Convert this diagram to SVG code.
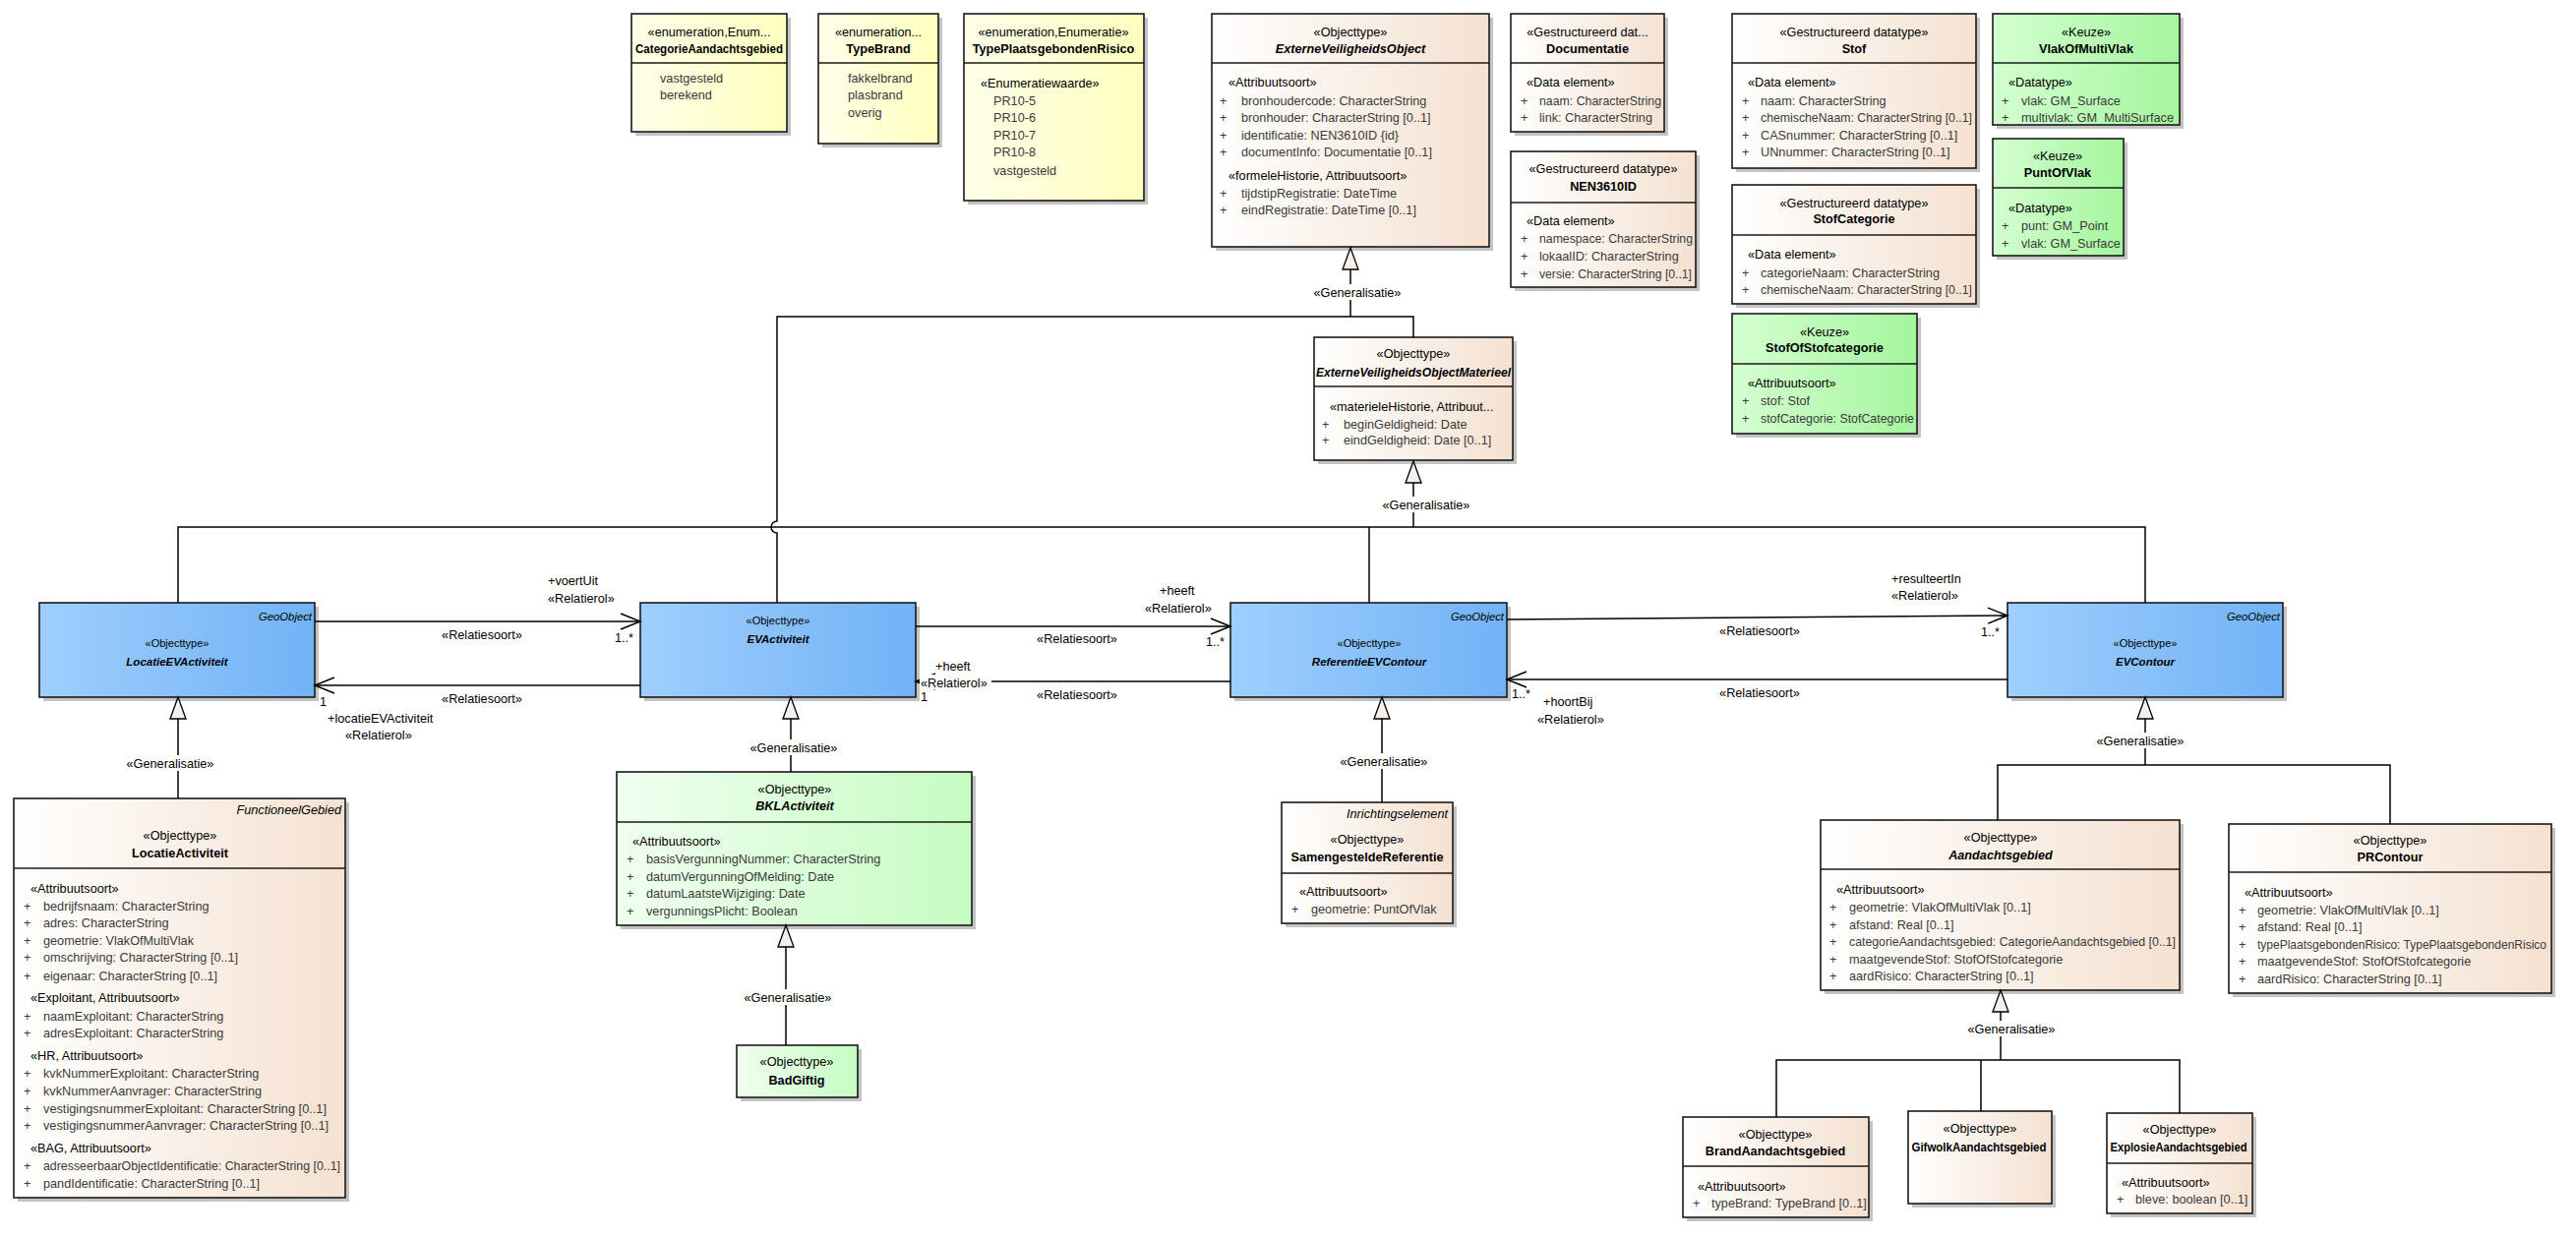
<svg xmlns="http://www.w3.org/2000/svg" width="2619" height="1258" viewBox="0 0 2619 1258">
<defs>
<linearGradient id="gPeach" x1="0" y1="0" x2="1" y2="0"><stop offset="0" stop-color="#FFFFFF"/><stop offset="1" stop-color="#F5E1D1"/></linearGradient>
<linearGradient id="gYellow" x1="0" y1="0" x2="1" y2="0"><stop offset="0" stop-color="#FFFFEA"/><stop offset="1" stop-color="#FFFFBE"/></linearGradient>
<linearGradient id="gGreen" x1="0" y1="0" x2="1" y2="0"><stop offset="0" stop-color="#D4FFD0"/><stop offset="1" stop-color="#A4F59E"/></linearGradient>
<linearGradient id="gGreenL" x1="0" y1="0" x2="1" y2="0"><stop offset="0" stop-color="#F0FFF0"/><stop offset="1" stop-color="#C6FCC2"/></linearGradient>
<linearGradient id="gBlue" x1="0" y1="0" x2="1" y2="0"><stop offset="0" stop-color="#9FCFFE"/><stop offset="1" stop-color="#72B2F6"/></linearGradient>
<marker id="gen" markerWidth="26" markerHeight="20" refX="23" refY="9" orient="auto" markerUnits="userSpaceOnUse"><path d="M1,1 L23,9 L1,17 Z" fill="#F6F0EC" stroke="#000" stroke-width="1.3"/></marker>
<marker id="arr" markerWidth="24" markerHeight="20" refX="21" refY="9" orient="auto" markerUnits="userSpaceOnUse"><path d="M1,1 L21,9 L1,17" fill="none" stroke="#000" stroke-width="1.5"/></marker>
<style>
text{font-family:"Liberation Sans",Arial,sans-serif;font-size:12.7px;fill:#000}
.sh{fill:#c4c4c4}
.bx{stroke:#1a1a1a;stroke-width:1.6}
.dv{stroke:#1a1a1a;stroke-width:1.6}
.pe{fill:url(#gPeach)}
.ye{fill:url(#gYellow)}
.gr{fill:url(#gGreen)}
.gl{fill:url(#gGreenL)}
.bl{fill:url(#gBlue)}
.c{text-anchor:middle}
.b{font-weight:bold}
.bi{font-weight:bold;font-style:italic}
.it{font-style:italic}
.r{text-anchor:end}
.at{fill:#3a3a3a}
.bs{font-size:11px}
.bn{font-size:11.5px;font-weight:bold;font-style:italic}
.geo{font-size:11.3px;font-style:italic;text-anchor:end}
.ln{fill:none;stroke:#000;stroke-width:1.5}
.lb{fill:#fff}
</style>
</defs>
<rect width="2619" height="1258" fill="#fff"/>

<!-- Enumerations -->
<g id="CategorieAandachtsgebied">
<rect class="sh" x="646" y="18" width="158" height="120"/>
<rect class="bx ye" x="642" y="14" width="158" height="120"/>
<line class="dv" x1="642" y1="64" x2="800" y2="64"/>
<text class="c" x="721" y="36.5">«enumeration,Enum...</text>
<text class="c b" x="721" y="53.5" textLength="150" lengthAdjust="spacingAndGlyphs">CategorieAandachtsgebied</text>
<text class="at" x="671" y="83.5">vastgesteld</text>
<text class="at" x="671" y="100.5">berekend</text>
</g>
<g id="TypeBrand">
<rect class="sh" x="836" y="18" width="122" height="132"/>
<rect class="bx ye" x="832" y="14" width="122" height="132"/>
<line class="dv" x1="832" y1="64" x2="954" y2="64"/>
<text class="c" x="893" y="36.5">«enumeration...</text>
<text class="c b" x="893" y="53.5">TypeBrand</text>
<text class="at" x="862" y="83.5">fakkelbrand</text>
<text class="at" x="862" y="100.5">plasbrand</text>
<text class="at" x="862" y="118.5">overig</text>
</g>
<g id="TypePlaatsgebondenRisico">
<rect class="sh" x="984" y="18" width="183" height="190"/>
<rect class="bx ye" x="980" y="14" width="183" height="190"/>
<line class="dv" x1="980" y1="64" x2="1163" y2="64"/>
<text class="c" x="1071" y="36.5">«enumeration,Enumeratie»</text>
<text class="c b" x="1071" y="53.5">TypePlaatsgebondenRisico</text>
<text x="997" y="88.5">«Enumeratiewaarde»</text>
<text class="at" x="1010" y="106.5">PR10-5</text>
<text class="at" x="1010" y="123.5">PR10-6</text>
<text class="at" x="1010" y="141.5">PR10-7</text>
<text class="at" x="1010" y="158.5">PR10-8</text>
<text class="at" x="1010" y="177.5">vastgesteld</text>
</g>

<!-- ExterneVeiligheidsObject -->
<g id="ExterneVeiligheidsObject">
<rect class="sh" x="1236" y="18" width="282" height="237"/>
<rect class="bx pe" x="1232" y="14" width="282" height="237"/>
<line class="dv" x1="1232" y1="64" x2="1514" y2="64"/>
<text class="c" x="1373" y="36.5">«Objecttype»</text>
<text class="c bi" x="1373" y="53.5">ExterneVeiligheidsObject</text>
<text x="1249" y="87.5">«Attribuutsoort»</text>
<text class="at" x="1240" y="106.5">+</text><text class="at" x="1262" y="106.5">bronhoudercode: CharacterString</text>
<text class="at" x="1240" y="123.5">+</text><text class="at" x="1262" y="123.5">bronhouder: CharacterString [0..1]</text>
<text class="at" x="1240" y="141.5">+</text><text class="at" x="1262" y="141.5">identificatie: NEN3610ID {id}</text>
<text class="at" x="1240" y="158.5">+</text><text class="at" x="1262" y="158.5">documentInfo: Documentatie [0..1]</text>
<text x="1249" y="182.5">«formeleHistorie, Attribuutsoort»</text>
<text class="at" x="1240" y="200.5">+</text><text class="at" x="1262" y="200.5">tijdstipRegistratie: DateTime</text>
<text class="at" x="1240" y="217.5">+</text><text class="at" x="1262" y="217.5">eindRegistratie: DateTime [0..1]</text>
</g>
<g id="Documentatie">
<rect class="sh" x="1540" y="18" width="156" height="120"/>
<rect class="bx pe" x="1536" y="14" width="156" height="120"/>
<line class="dv" x1="1536" y1="64" x2="1692" y2="64"/>
<text class="c" x="1614" y="36.5">«Gestructureerd dat...</text>
<text class="c b" x="1614" y="53.5">Documentatie</text>
<text x="1552" y="87.5">«Data element»</text>
<text class="at" x="1546" y="106.5">+</text><text class="at" x="1565" y="106.5" textLength="124" lengthAdjust="spacingAndGlyphs">naam: CharacterString</text>
<text class="at" x="1546" y="123.5">+</text><text class="at" x="1565" y="123.5">link: CharacterString</text>
</g>
<g id="NEN3610ID">
<rect class="sh" x="1540" y="158" width="188" height="138"/>
<rect class="bx pe" x="1536" y="154" width="188" height="138"/>
<line class="dv" x1="1536" y1="206" x2="1724" y2="206"/>
<text class="c" x="1630" y="175.5">«Gestructureerd datatype»</text>
<text class="c b" x="1630" y="193.5">NEN3610ID</text>
<text x="1552" y="228.5">«Data element»</text>
<text class="at" x="1546" y="246.5">+</text><text class="at" x="1565" y="246.5" textLength="156" lengthAdjust="spacingAndGlyphs">namespace: CharacterString</text>
<text class="at" x="1546" y="264.5">+</text><text class="at" x="1565" y="264.5">lokaalID: CharacterString</text>
<text class="at" x="1546" y="282.5">+</text><text class="at" x="1565" y="282.5" textLength="155" lengthAdjust="spacingAndGlyphs">versie: CharacterString [0..1]</text>
</g>
<g id="Stof">
<rect class="sh" x="1765" y="18" width="248" height="157"/>
<rect class="bx pe" x="1761" y="14" width="248" height="157"/>
<line class="dv" x1="1761" y1="64" x2="2009" y2="64"/>
<text class="c" x="1885" y="36.5">«Gestructureerd datatype»</text>
<text class="c b" x="1885" y="53.5">Stof</text>
<text x="1777" y="87.5">«Data element»</text>
<text class="at" x="1771" y="106.5">+</text><text class="at" x="1790" y="106.5">naam: CharacterString</text>
<text class="at" x="1771" y="123.5">+</text><text class="at" x="1790" y="123.5" textLength="215" lengthAdjust="spacingAndGlyphs">chemischeNaam: CharacterString [0..1]</text>
<text class="at" x="1771" y="141.5">+</text><text class="at" x="1790" y="141.5">CASnummer: CharacterString [0..1]</text>
<text class="at" x="1771" y="158.5">+</text><text class="at" x="1790" y="158.5">UNnummer: CharacterString [0..1]</text>
</g>
<g id="StofCategorie">
<rect class="sh" x="1765" y="192" width="248" height="121"/>
<rect class="bx pe" x="1761" y="188" width="248" height="121"/>
<line class="dv" x1="1761" y1="239" x2="2009" y2="239"/>
<text class="c" x="1885" y="210.5">«Gestructureerd datatype»</text>
<text class="c b" x="1885" y="226.5">StofCategorie</text>
<text x="1777" y="262.5">«Data element»</text>
<text class="at" x="1771" y="281.5">+</text><text class="at" x="1790" y="281.5">categorieNaam: CharacterString</text>
<text class="at" x="1771" y="298.5">+</text><text class="at" x="1790" y="298.5" textLength="215" lengthAdjust="spacingAndGlyphs">chemischeNaam: CharacterString [0..1]</text>
</g>
<g id="StofOfStofcategorie">
<rect class="sh" x="1765" y="323" width="188" height="122"/>
<rect class="bx gr" x="1761" y="319" width="188" height="122"/>
<line class="dv" x1="1761" y1="370" x2="1949" y2="370"/>
<text class="c" x="1855" y="341.5">«Keuze»</text>
<text class="c b" x="1855" y="357.5">StofOfStofcategorie</text>
<text x="1777" y="393.5">«Attribuutsoort»</text>
<text class="at" x="1771" y="411.5">+</text><text class="at" x="1790" y="411.5">stof: Stof</text>
<text class="at" x="1771" y="429.5">+</text><text class="at" x="1790" y="429.5" textLength="156" lengthAdjust="spacingAndGlyphs">stofCategorie: StofCategorie</text>
</g>
<g id="VlakOfMultiVlak">
<rect class="sh" x="2030" y="18" width="190" height="113"/>
<rect class="bx gr" x="2026" y="14" width="190" height="113"/>
<line class="dv" x1="2026" y1="64" x2="2216" y2="64"/>
<text class="c" x="2121" y="36.5">«Keuze»</text>
<text class="c b" x="2121" y="53.5">VlakOfMultiVlak</text>
<text x="2042" y="87.5">«Datatype»</text>
<text class="at" x="2035" y="106.5">+</text><text class="at" x="2055" y="106.5">vlak: GM_Surface</text>
<text class="at" x="2035" y="123.5">+</text><text class="at" x="2055" y="123.5" textLength="155" lengthAdjust="spacingAndGlyphs">multivlak: GM_MultiSurface</text>
</g>
<g id="PuntOfVlak">
<rect class="sh" x="2030" y="145" width="133" height="119"/>
<rect class="bx gr" x="2026" y="141" width="133" height="119"/>
<line class="dv" x1="2026" y1="191" x2="2159" y2="191"/>
<text class="c" x="2092" y="162.5">«Keuze»</text>
<text class="c b" x="2092" y="179.5">PuntOfVlak</text>
<text x="2042" y="215.5">«Datatype»</text>
<text class="at" x="2035" y="233.5">+</text><text class="at" x="2055" y="233.5">punt: GM_Point</text>
<text class="at" x="2035" y="251.5">+</text><text class="at" x="2055" y="251.5">vlak: GM_Surface</text>
</g>
<g id="ExterneVeiligheidsObjectMaterieel">
<rect class="sh" x="1340" y="347" width="202" height="125"/>
<rect class="bx pe" x="1336" y="343" width="202" height="125"/>
<line class="dv" x1="1336" y1="393" x2="1538" y2="393"/>
<text class="c" x="1437" y="363.5">«Objecttype»</text>
<text class="c bi" x="1437" y="382.5" textLength="198" lengthAdjust="spacingAndGlyphs">ExterneVeiligheidsObjectMaterieel</text>
<text x="1352" y="417.5">«materieleHistorie, Attribuut...</text>
<text class="at" x="1344" y="435.5">+</text><text class="at" x="1366" y="435.5">beginGeldigheid: Date</text>
<text class="at" x="1344" y="451.5">+</text><text class="at" x="1366" y="451.5">eindGeldigheid: Date [0..1]</text>
</g>

<!-- Blue row -->
<g id="LocatieEVActiviteit">
<rect class="sh" x="44" y="617" width="280" height="96"/>
<rect class="bx bl" x="40" y="613" width="280" height="96"/>
<text class="geo" x="317" y="631">GeoObject</text>
<text class="c bs" x="180" y="658">«Objecttype»</text>
<text class="c bn" x="180" y="677">LocatieEVActiviteit</text>
</g>
<g id="EVActiviteit">
<rect class="sh" x="655" y="617" width="280" height="96"/>
<rect class="bx bl" x="651" y="613" width="280" height="96"/>
<text class="c bs" x="791" y="635">«Objecttype»</text>
<text class="c bn" x="791" y="654">EVActiviteit</text>
</g>
<g id="ReferentieEVContour">
<rect class="sh" x="1255" y="617" width="281" height="96"/>
<rect class="bx bl" x="1251" y="613" width="281" height="96"/>
<text class="geo" x="1529" y="631">GeoObject</text>
<text class="c bs" x="1392" y="658">«Objecttype»</text>
<text class="c bn" x="1392" y="677">ReferentieEVContour</text>
</g>
<g id="EVContour">
<rect class="sh" x="2045" y="617" width="280" height="96"/>
<rect class="bx bl" x="2041" y="613" width="280" height="96"/>
<text class="geo" x="2318" y="631">GeoObject</text>
<text class="c bs" x="2181" y="658">«Objecttype»</text>
<text class="c bn" x="2181" y="677">EVContour</text>
</g>

<!-- Lower nodes -->
<g id="LocatieActiviteit">
<rect class="sh" x="18" y="816" width="337" height="406"/>
<rect class="bx pe" x="14" y="812" width="337" height="406"/>
<line class="dv" x1="14" y1="883" x2="351" y2="883"/>
<text class="it r" x="347" y="827.5">FunctioneelGebied</text>
<text class="c" x="183" y="853.5">«Objecttype»</text>
<text class="c b" x="183" y="871.5">LocatieActiviteit</text>
<text x="31" y="907.5">«Attribuutsoort»</text>
<text class="at" x="24" y="925.5">+</text><text class="at" x="44" y="925.5">bedrijfsnaam: CharacterString</text>
<text class="at" x="24" y="942.5">+</text><text class="at" x="44" y="942.5">adres: CharacterString</text>
<text class="at" x="24" y="960.5">+</text><text class="at" x="44" y="960.5">geometrie: VlakOfMultiVlak</text>
<text class="at" x="24" y="977.5">+</text><text class="at" x="44" y="977.5">omschrijving: CharacterString [0..1]</text>
<text class="at" x="24" y="996.5">+</text><text class="at" x="44" y="996.5">eigenaar: CharacterString [0..1]</text>
<text x="31" y="1018.5">«Exploitant, Attribuutsoort»</text>
<text class="at" x="24" y="1037.5">+</text><text class="at" x="44" y="1037.5">naamExploitant: CharacterString</text>
<text class="at" x="24" y="1054.5">+</text><text class="at" x="44" y="1054.5">adresExploitant: CharacterString</text>
<text x="31" y="1077.5">«HR, Attribuutsoort»</text>
<text class="at" x="24" y="1095.5">+</text><text class="at" x="44" y="1095.5">kvkNummerExploitant: CharacterString</text>
<text class="at" x="24" y="1113.5">+</text><text class="at" x="44" y="1113.5">kvkNummerAanvrager: CharacterString</text>
<text class="at" x="24" y="1131.5">+</text><text class="at" x="44" y="1131.5" textLength="288" lengthAdjust="spacingAndGlyphs">vestigingsnummerExploitant: CharacterString [0..1]</text>
<text class="at" x="24" y="1148.5">+</text><text class="at" x="44" y="1148.5" textLength="290" lengthAdjust="spacingAndGlyphs">vestigingsnummerAanvrager: CharacterString [0..1]</text>
<text x="31" y="1171.5">«BAG, Attribuutsoort»</text>
<text class="at" x="24" y="1189.5">+</text><text class="at" x="44" y="1189.5" textLength="302" lengthAdjust="spacingAndGlyphs">adresseerbaarObjectIdentificatie: CharacterString [0..1]</text>
<text class="at" x="24" y="1207.5">+</text><text class="at" x="44" y="1207.5">pandIdentificatie: CharacterString [0..1]</text>
</g>
<g id="BKLActiviteit">
<rect class="sh" x="631" y="789" width="361" height="156"/>
<rect class="bx gl" x="627" y="785" width="361" height="156"/>
<line class="dv" x1="627" y1="836" x2="988" y2="836"/>
<text class="c" x="808" y="806.5">«Objecttype»</text>
<text class="c bi" x="808" y="823.5">BKLActiviteit</text>
<text x="643" y="859.5">«Attribuutsoort»</text>
<text class="at" x="637" y="877.5">+</text><text class="at" x="657" y="877.5">basisVergunningNummer: CharacterString</text>
<text class="at" x="637" y="895.5">+</text><text class="at" x="657" y="895.5">datumVergunningOfMelding: Date</text>
<text class="at" x="637" y="912.5">+</text><text class="at" x="657" y="912.5">datumLaatsteWijziging: Date</text>
<text class="at" x="637" y="930.5">+</text><text class="at" x="657" y="930.5">vergunningsPlicht: Boolean</text>
</g>
<g id="BadGiftig">
<rect class="sh" x="753" y="1067" width="123" height="53"/>
<rect class="bx gl" x="749" y="1063" width="123" height="53"/>
<text class="c" x="810" y="1083.5">«Objecttype»</text>
<text class="c b" x="810" y="1102.5">BadGiftig</text>
</g>
<g id="SamengesteldeReferentie">
<rect class="sh" x="1307" y="820" width="174" height="123"/>
<rect class="bx pe" x="1303" y="816" width="174" height="123"/>
<line class="dv" x1="1303" y1="888" x2="1477" y2="888"/>
<text class="it r" x="1472" y="831.5">Inrichtingselement</text>
<text class="c" x="1390" y="857.5">«Objecttype»</text>
<text class="c b" x="1390" y="875.5">SamengesteldeReferentie</text>
<text x="1321" y="910.5">«Attribuutsoort»</text>
<text class="at" x="1313" y="928.5">+</text><text class="at" x="1333" y="928.5">geometrie: PuntOfVlak</text>
</g>
<g id="Aandachtsgebied">
<rect class="sh" x="1855" y="838" width="365" height="173"/>
<rect class="bx pe" x="1851" y="834" width="365" height="173"/>
<line class="dv" x1="1851" y1="884" x2="2216" y2="884"/>
<text class="c" x="2034" y="855.5">«Objecttype»</text>
<text class="c bi" x="2034" y="873.5">Aandachtsgebied</text>
<text x="1867" y="908.5">«Attribuutsoort»</text>
<text class="at" x="1860" y="926.5">+</text><text class="at" x="1880" y="926.5">geometrie: VlakOfMultiVlak [0..1]</text>
<text class="at" x="1860" y="944.5">+</text><text class="at" x="1880" y="944.5">afstand: Real [0..1]</text>
<text class="at" x="1860" y="961.5">+</text><text class="at" x="1880" y="961.5" textLength="332" lengthAdjust="spacingAndGlyphs">categorieAandachtsgebied: CategorieAandachtsgebied [0..1]</text>
<text class="at" x="1860" y="979.5">+</text><text class="at" x="1880" y="979.5">maatgevendeStof: StofOfStofcategorie</text>
<text class="at" x="1860" y="996.5">+</text><text class="at" x="1880" y="996.5">aardRisico: CharacterString [0..1]</text>
</g>
<g id="PRContour">
<rect class="sh" x="2270" y="842" width="328" height="172"/>
<rect class="bx pe" x="2266" y="838" width="328" height="172"/>
<line class="dv" x1="2266" y1="887" x2="2594" y2="887"/>
<text class="c" x="2430" y="858.5">«Objecttype»</text>
<text class="c b" x="2430" y="875.5">PRContour</text>
<text x="2282" y="911.5">«Attribuutsoort»</text>
<text class="at" x="2276" y="929.5">+</text><text class="at" x="2295" y="929.5">geometrie: VlakOfMultiVlak [0..1]</text>
<text class="at" x="2276" y="946.5">+</text><text class="at" x="2295" y="946.5">afstand: Real [0..1]</text>
<text class="at" x="2276" y="964.5">+</text><text class="at" x="2295" y="964.5" textLength="294" lengthAdjust="spacingAndGlyphs">typePlaatsgebondenRisico: TypePlaatsgebondenRisico</text>
<text class="at" x="2276" y="981.5">+</text><text class="at" x="2295" y="981.5">maatgevendeStof: StofOfStofcategorie</text>
<text class="at" x="2276" y="999.5">+</text><text class="at" x="2295" y="999.5">aardRisico: CharacterString [0..1]</text>
</g>
<g id="BrandAandachtsgebied">
<rect class="sh" x="1715" y="1140" width="189" height="102"/>
<rect class="bx pe" x="1711" y="1136" width="189" height="102"/>
<line class="dv" x1="1711" y1="1186" x2="1900" y2="1186"/>
<text class="c" x="1805" y="1157.5">«Objecttype»</text>
<text class="c b" x="1805" y="1174.5">BrandAandachtsgebied</text>
<text x="1726" y="1210.5">«Attribuutsoort»</text>
<text class="at" x="1721" y="1227.5">+</text><text class="at" x="1740" y="1227.5">typeBrand: TypeBrand [0..1]</text>
</g>
<g id="GifwolkAandachtsgebied">
<rect class="sh" x="1944" y="1134" width="146" height="94"/>
<rect class="bx pe" x="1940" y="1130" width="146" height="94"/>
<text class="c" x="2013" y="1151.5">«Objecttype»</text>
<text class="c b" x="2012" y="1170.5" textLength="137" lengthAdjust="spacingAndGlyphs">GifwolkAandachtsgebied</text>
</g>
<g id="ExplosieAandachtsgebied">
<rect class="sh" x="2146" y="1136" width="148" height="102"/>
<rect class="bx pe" x="2142" y="1132" width="148" height="102"/>
<line class="dv" x1="2142" y1="1183" x2="2290" y2="1183"/>
<text class="c" x="2216" y="1152.5">«Objecttype»</text>
<text class="c b" x="2215" y="1170.5" textLength="139" lengthAdjust="spacingAndGlyphs">ExplosieAandachtsgebied</text>
<text x="2157" y="1206.5">«Attribuutsoort»</text>
<text class="at" x="2152" y="1223.5">+</text><text class="at" x="2171" y="1223.5">bleve: boolean [0..1]</text>
</g>

<!-- Connectors -->
<g id="connectors">
<!-- EVO generalization tree -->
<path class="ln" d="M790,613 V542 A6,6 0 0 1 790,530 V322 H1437 V343"/>
<path class="ln" d="M1373,322 V252" marker-end="url(#gen)"/>
<rect class="lb" x="1334" y="289" width="92" height="16"/>
<text class="c" x="1380" y="301.5">«Generalisatie»</text>
<!-- EVOM generalization tree -->
<path class="ln" d="M181,613 V536 H2181 V613"/>
<path class="ln" d="M1392,536 V613"/>
<path class="ln" d="M1437,536 V469" marker-end="url(#gen)"/>
<rect class="lb" x="1404" y="505" width="92" height="16"/>
<text class="c" x="1450" y="517.5">«Generalisatie»</text>
<!-- associations -->
<path class="ln" d="M320,632 H651" marker-end="url(#arr)"/>
<text x="557" y="594.5">+voertUit</text>
<text x="557" y="612.5">«Relatierol»</text>
<text class="c" x="490" y="649.5">«Relatiesoort»</text>
<text x="625" y="652.5">1..*</text>
<path class="ln" d="M651,697 H320" marker-end="url(#arr)"/>
<text class="c" x="490" y="714.5">«Relatiesoort»</text>
<text x="325" y="717.5">1</text>
<text x="333" y="734.5">+locatieEVActiviteit</text>
<text x="351" y="751.5">«Relatierol»</text>
<path class="ln" d="M931,637 H1251" marker-end="url(#arr)"/>
<text x="1179" y="604.5">+heeft</text>
<text x="1164" y="622.5">«Relatierol»</text>
<text class="c" x="1095" y="653.5">«Relatiesoort»</text>
<text x="1226" y="656.5">1..*</text>
<path class="ln" d="M1251,693 H931" marker-end="url(#arr)"/>
<text x="951" y="681.5">+heeft</text>
<rect class="lb" x="935" y="686" width="73" height="15"/>
<text x="936" y="698.5">«Relatierol»</text>
<text x="936" y="712.5">1</text>
<text class="c" x="1095" y="710.5">«Relatiesoort»</text>
<path class="ln" d="M1532,630 L2041,626" marker-end="url(#arr)"/>
<text x="1923" y="592.5">+resulteertIn</text>
<text x="1923" y="609.5">«Relatierol»</text>
<text class="c" x="1789" y="645.5">«Relatiesoort»</text>
<text x="2014" y="646.5">1..*</text>
<path class="ln" d="M2041,691 H1532" marker-end="url(#arr)"/>
<text class="c" x="1789" y="708.5">«Relatiesoort»</text>
<text x="1537" y="709.5">1..*</text>
<text x="1569" y="717.5">+hoortBij</text>
<text x="1563" y="735.5">«Relatierol»</text>
<!-- lower generalizations -->
<path class="ln" d="M181,812 V709" marker-end="url(#gen)"/>
<rect class="lb" x="127" y="768" width="92" height="16"/>
<text class="c" x="173" y="780.5">«Generalisatie»</text>
<path class="ln" d="M804,785 V709" marker-end="url(#gen)"/>
<rect class="lb" x="761" y="752" width="92" height="16"/>
<text class="c" x="807" y="764.5">«Generalisatie»</text>
<path class="ln" d="M799,1063 V941" marker-end="url(#gen)"/>
<rect class="lb" x="755" y="1006" width="92" height="16"/>
<text class="c" x="801" y="1018.5">«Generalisatie»</text>
<path class="ln" d="M1405,816 V709" marker-end="url(#gen)"/>
<rect class="lb" x="1361" y="766" width="92" height="16"/>
<text class="c" x="1407" y="778.5">«Generalisatie»</text>
<path class="ln" d="M2031,834 V778 H2430 V838"/>
<path class="ln" d="M2181,778 V709" marker-end="url(#gen)"/>
<rect class="lb" x="2130" y="745" width="92" height="16"/>
<text class="c" x="2176" y="757.5">«Generalisatie»</text>
<path class="ln" d="M1806,1136 V1078 H2216 V1132"/>
<path class="ln" d="M2014,1078 V1130"/>
<path class="ln" d="M2034,1078 V1007" marker-end="url(#gen)"/>
<rect class="lb" x="1999" y="1038" width="92" height="16"/>
<text class="c" x="2045" y="1050.5">«Generalisatie»</text>
</g>
</svg>
